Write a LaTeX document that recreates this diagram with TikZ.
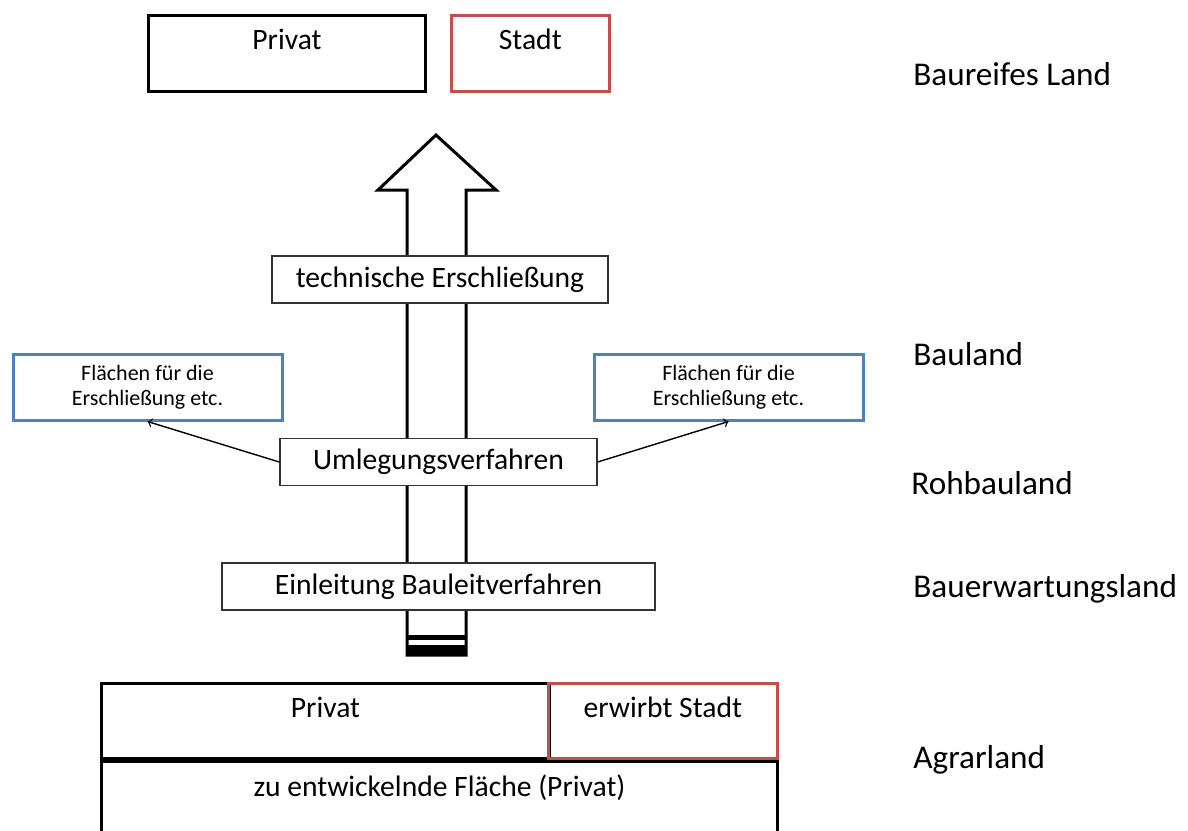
\documentclass[tikz,border=0pt]{standalone}
\usepackage{fontspec}
\setmainfont{Carlito}
\usetikzlibrary{arrows}
\definecolor{stadtred}{RGB}{192,80,77}
\definecolor{flaecheblue}{RGB}{79,129,189}

\begin{document}
\begin{tikzpicture}[x=0.5pt,y=-0.5pt]
            \tikzset{ownbox/.style = {draw, line width=1.5pt, inner sep=0pt, text height=17pt, text depth=21pt, anchor=north west, font=\fontsize{14.8}{17}\selectfont}}
            \tikzset{stepbox/.style = {draw=black!80, line width=0.7pt, fill=white, minimum height=23.5pt, font=\fontsize{14.8}{17}\selectfont}}
            \tikzset{areabox/.style = {draw=flaecheblue, line width=1.5pt, align=center, minimum width=134.5pt, minimum height=33pt, font=\fontsize{11}{12.5}\selectfont}}
            \tikzset{level/.style = {anchor=base west, inner sep=0pt, font=\fontsize{16.6}{20}\selectfont}}
            \tikzset{edge/.style = {->, > = to, line width=0.7pt}}
            \useasboundingbox (0,0) rectangle (1188,830);
            % big arrow
            \draw[line width=1.5pt, line join=miter] (407,655) -- (407,190) -- (378,190) -- (436,135) -- (496,190) -- (466,190) -- (466,655) -- cycle;
            \draw[line width=2.5pt] (407,637.5) -- (466,637.5);
            \fill (406,645) rectangle (467,656);
            % top
            \node[ownbox, minimum width=138.5pt] (privattop) at (147,14) {Privat};
            \node[ownbox, draw=stadtred, line width=1.3pt, minimum width=79pt] (stadttop) at (450,14) {Stadt};
            % steps
            \node[stepbox, minimum width=168pt] (technik) at (440,279.5) {technische Erschließung};
            \node[stepbox, minimum width=158.5pt] (umlegung) at (438.5,462) {Umlegungsverfahren};
            \node[stepbox, minimum width=216.5pt] (einleitung) at (438.5,586.5) {Einleitung Bauleitverfahren};
            \node[areabox] (flaecheL) at (147.5,387) {Flächen für die\\Erschließung etc.};
            \node[areabox] (flaecheR) at (728.5,387) {Flächen für die\\Erschließung etc.};
            % bottom
            \node[ownbox, minimum width=224pt, text depth=20.5pt] (privatbottom) at (100,682) {Privat};
            \node[ownbox, draw=stadtred, line width=1.3pt, minimum width=114.5pt, text depth=20.5pt] (erwirbt) at (547,682) {erwirbt Stadt};
            \node[ownbox, minimum width=338pt, text height=17.5pt, text depth=40pt] (entwicklung) at (100,760) {zu entwickelnde Fläche (Privat)};
            % levels
            \node[level] (baureif) at (913,85) {Baureifes Land};
            \node[level] (bauland) at (913,365) {Bauland};
            \node[level] (rohbau) at (911,494) {Rohbauland};
            \node[level] (erwartung) at (913,597) {Bauerwartungsland};
            \node[level] (agrar) at (913,768) {Agrarland};
            %edges
            \draw[edge] (umlegung.west) to (flaecheL.south);
            \draw[edge] (umlegung.east) to (flaecheR.south);
        \end{tikzpicture}
\end{document}
